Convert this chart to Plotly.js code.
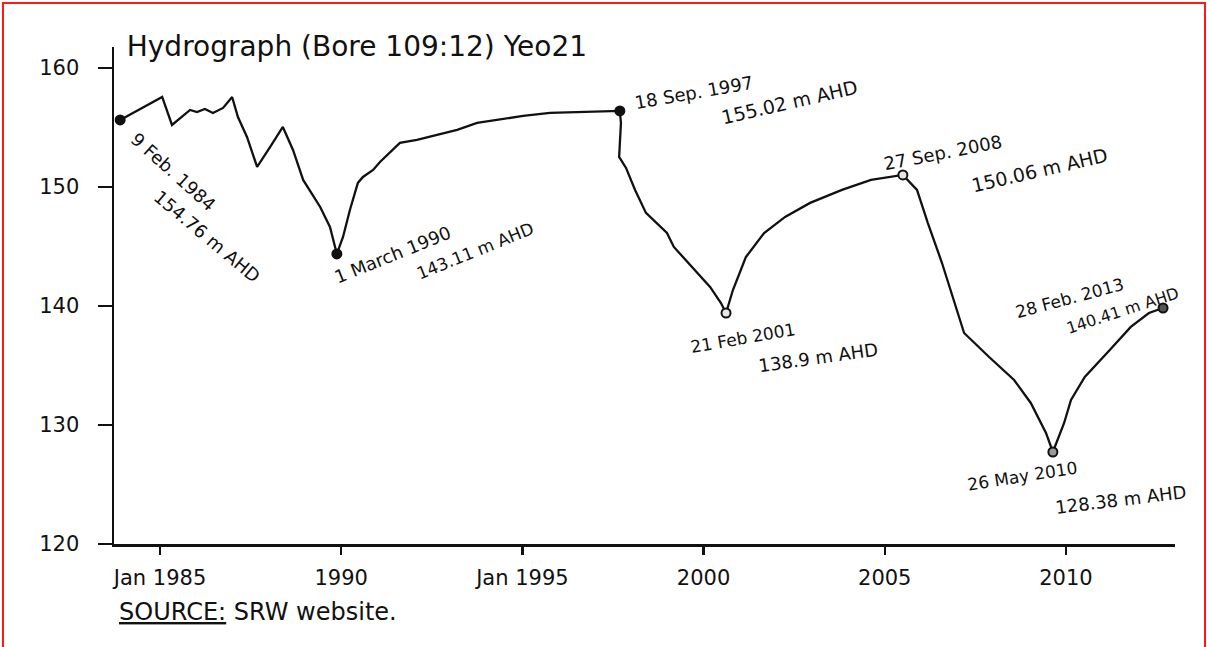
<!DOCTYPE html>
<html>
<head>
<meta charset="utf-8">
<script src="https://cdn.plot.ly/plotly-3.0.1.min.js"></script>
<style>
  html, body { margin: 0; padding: 0; background: #fff; }
  #chart { width: 1207px; height: 647px; }
  #frame { position: absolute; left: 2px; top: 2px; width: 1200px; height: 700px;
           border: 2px solid #ff1a1a; pointer-events: none; }
</style>
</head>
<body>
<div id="chart"></div>
<div id="frame"></div>
<script>
// ---- data (decimal year, m AHD) ----
const years = [
  1983.90, 1985.06, 1985.33, 1985.61, 1985.83, 1986.02, 1986.24, 1986.46, 1986.74, 1986.99,
  1987.15, 1987.40, 1987.68, 1988.04, 1988.39, 1988.67, 1988.95, 1989.42, 1989.69, 1989.88,
  1990.05, 1990.24, 1990.46, 1990.60, 1990.88, 1991.07, 1991.35, 1991.62, 1992.09, 1992.64,
  1993.20, 1993.75, 1994.30, 1995.02, 1995.76, 1996.51, 1997.22, 1997.69,
  1997.72, 1997.67, 1997.86, 1998.11, 1998.41, 1998.99, 1999.18, 1999.68, 2000.18, 2000.48, 2000.62,
  2000.81, 2001.17, 2001.67, 2002.25, 2002.94, 2003.82, 2004.62, 2005.50,
  2005.89, 2006.19, 2006.58, 2006.97, 2007.19, 2007.88, 2008.57, 2009.03, 2009.45, 2009.64,
  2009.95, 2010.14, 2010.52, 2011.21, 2011.79, 2012.29, 2012.68
];
const levels = [
  155.63, 157.56, 155.21, 155.88, 156.47, 156.30, 156.55, 156.22, 156.64, 157.56,
  155.88, 154.20, 151.68, 153.36, 155.04, 153.11, 150.59, 148.32, 146.64, 144.37,
  145.80, 148.07, 150.34, 150.84, 151.43, 152.10, 152.94, 153.70, 153.95, 154.37,
  154.79, 155.38, 155.63, 155.97, 156.22, 156.30, 156.39, 156.39,
  155.38, 152.52, 151.60, 149.75, 147.82, 146.13, 144.96, 143.28, 141.60, 140.25, 139.41,
  141.34, 144.12, 146.13, 147.48, 148.66, 149.75, 150.59, 151.01,
  149.75, 146.97, 143.61, 139.92, 137.73, 135.71, 133.78, 131.85, 129.33, 127.73,
  130.17, 132.10, 134.03, 136.30, 138.24, 139.41, 139.83
];
// key (annotated) readings
const keyYears  = [1983.90, 1989.88, 1997.69, 2000.62, 2005.50, 2009.64, 2012.68];
const keyLevels = [155.63, 144.37, 156.39, 139.41, 151.01, 127.73, 139.83];
// axis ticks
const xTickVals = [1985, 1990, 1995, 2000, 2005, 2010];
const xTickText = ["Jan 1985", "1990", "Jan 1995", "2000", "2005", "2010"];
const yTickVals = [120, 130, 140, 150, 160];
// note texts
const noteTexts = [
  "9 Feb. 1984", "154.76 m AHD",
  "1 March 1990", "143.11 m AHD",
  "18 Sep. 1997", "155.02 m AHD",
  "21 Feb 2001", "138.9 m AHD",
  "27 Sep. 2008", "150.06 m AHD",
  "26 May 2010", "128.38 m AHD",
  "28 Feb. 2013", "140.41 m AHD"
];

// ---- styling / placement (layout only) ----
const markerFill = ["#111", "#111", "#111", "#e6e6e6", "#e6e6e6", "#999", "#555"];
const notePlace = [
  {x: 1985.36, y: 151.26, a: 42, s: 18},
  {x: 1986.30, y: 145.80, a: 40, s: 18},
  {x: 1991.43, y: 144.29, a: -22, s: 18},
  {x: 1993.69, y: 144.62, a: -22, s: 17},
  {x: 1999.73, y: 157.90, a: -10, s: 18},
  {x: 2002.38, y: 157.14, a: -13, s: 19},
  {x: 2001.09, y: 137.31, a: -10, s: 17},
  {x: 2003.16, y: 135.71, a: -8,  s: 18},
  {x: 2006.61, y: 152.86, a: -11, s: 18},
  {x: 2009.28, y: 151.43, a: -13, s: 19},
  {x: 2008.81, y: 125.71, a: -9,  s: 17},
  {x: 2011.52, y: 123.70, a: -7,  s: 18},
  {x: 2010.11, y: 140.67, a: -15, s: 17},
  {x: 2011.57, y: 139.66, a: -18, s: 16}
];

const FONT = "DejaVu Sans, sans-serif";

const traces = [
  {
    x: years, y: levels, type: "scatter", mode: "lines",
    line: {color: "#111", width: 2.3}, hoverinfo: "skip", showlegend: false
  },
  {
    x: keyYears, y: keyLevels, type: "scatter", mode: "markers",
    marker: {size: 9, color: markerFill, line: {color: "#111", width: 2}},
    showlegend: false, cliponaxis: false
  }
];

const annotations = noteTexts.map((t, i) => ({
  text: t, x: notePlace[i].x, y: notePlace[i].y, xref: "x", yref: "y",
  showarrow: false, textangle: notePlace[i].a,
  xanchor: "center", yanchor: "middle",
  font: {family: FONT, size: notePlace[i].s, color: "#111"}
}));
annotations.push({
  text: "<u>SOURCE:</u> SRW website.", xref: "paper", yref: "paper",
  x: 0.003, y: -0.137, xanchor: "left", yanchor: "middle", showarrow: false,
  font: {family: FONT, size: 24, color: "#111"}
});

const layout = {
  width: 1207, height: 647,
  margin: {l: 114, r: 32, t: 47, b: 103, pad: 0},
  paper_bgcolor: "#fff", plot_bgcolor: "#fff",
  font: {family: FONT, color: "#111"},
  title: {
    text: "Hydrograph (Bore 109:12) Yeo21",
    font: {family: FONT, size: 28, color: "#111"},
    xref: "container", yref: "container",
    x: 0.105, xanchor: "left", y: 0.928, yanchor: "middle"
  },
  xaxis: {
    range: [1983.73, 2013.01], showgrid: false, zeroline: false,
    showline: true, linecolor: "#111", linewidth: 2.5,
    ticks: "outside", ticklen: 8, tickwidth: 2.5, tickcolor: "#111",
    tickvals: xTickVals, ticktext: xTickText, ticklabelstandoff: 5,
    tickfont: {family: FONT, size: 21, color: "#111"}
  },
  yaxis: {
    range: [120, 161.76], showgrid: false, zeroline: false,
    showline: true, linecolor: "#111", linewidth: 2.5,
    ticks: "outside", ticklen: 14, tickwidth: 2.5, tickcolor: "#111",
    tickvals: yTickVals, ticklabelstandoff: 14,
    tickfont: {family: FONT, size: 21, color: "#111"}
  },
  annotations: annotations,
  showlegend: false
};

Plotly.newPlot("chart", traces, layout, {displayModeBar: false, staticPlot: true});
</script>
</body>
</html>
